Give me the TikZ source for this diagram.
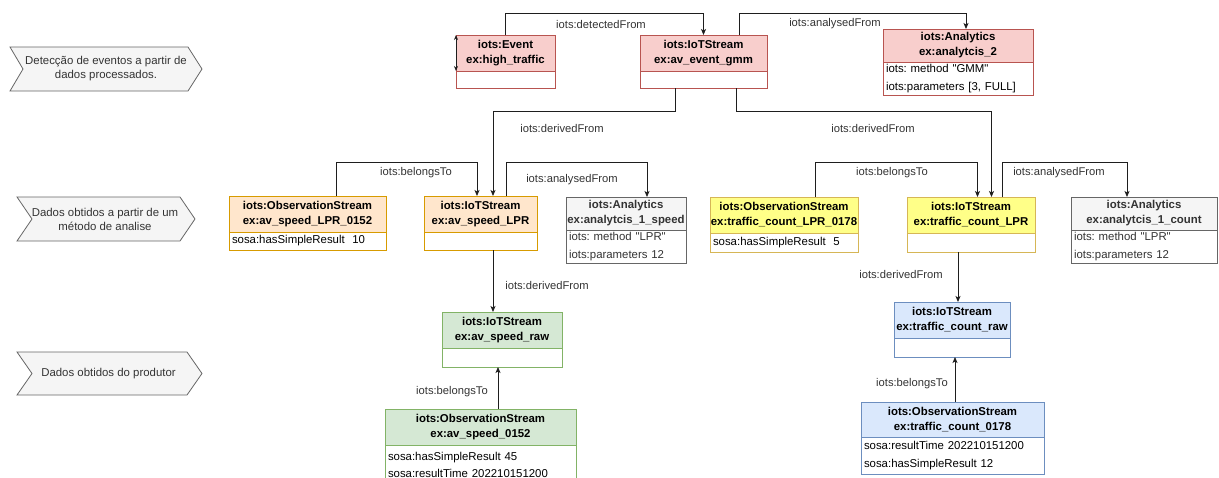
\documentclass[tikz,border=0pt]{standalone}
\usepackage{fontspec}
\setmainfont{Liberation Sans}[Ligatures=TeXOff]
\usetikzlibrary{arrows.meta}
\frenchspacing

\definecolor{redF}{HTML}{F8CECC}\definecolor{redD}{HTML}{B85450}
\definecolor{orangeF}{HTML}{FFE6CC}\definecolor{orangeD}{HTML}{D79B00}
\definecolor{yellowF}{HTML}{FFFF88}\definecolor{yellowD}{HTML}{D6B656}
\definecolor{grayF}{HTML}{F5F5F5}\definecolor{grayD}{HTML}{666666}
\definecolor{greenF}{HTML}{D5E8D4}\definecolor{greenD}{HTML}{82B366}
\definecolor{blueF}{HTML}{DAE8FC}\definecolor{blueD}{HTML}{6C8EBF}
\definecolor{lineC}{HTML}{1E1E1E}
\definecolor{textC}{HTML}{333333}

% class box: header with the two-line title, body with attribute rows
% #1 name, #2 colour style, #3 x1, #4 y1, #5 x2, #6 divider y, #7 y2, #8 title, #9 rows
\newcommand{\umlclass}[9]{%
  \pgfmathsetmacro\ucW{#5-#3}%
  \pgfmathsetmacro\ucTW{#5-#3-6}%
  \pgfmathsetmacro\ucHH{#6-#4}%
  \pgfmathsetmacro\ucBH{#7-#6}%
  \pgfmathsetmacro\ucX{(#3+#5)/2}%
  \pgfmathsetmacro\ucY{(#4+#6)/2}%
  \node[hdr,#2,minimum width=\ucW pt,minimum height=\ucHH pt] (#1) at (\ucX,\ucY) {#8};
  \node[bdy,#2,fill=white,minimum width=\ucW pt,minimum height=\ucBH pt,text width=\ucTW pt] (#1b) at (#1.south) {#9};
}

\begin{document}
\begin{tikzpicture}[x=1pt,y=-1pt,
  base/.style={rectangle,inner sep=0pt,outer sep=0pt,line width=0.9pt},
  hdr/.style={base,draw,align=center,font=\bfseries\fontsize{11.4}{15}\selectfont},
  bdy/.style={base,draw,anchor=north,align=left,inner xsep=3pt,
    font=\fontsize{11.4}{17.5}\selectfont},
  redbox/.style={fill=redF,draw=redD},
  orangebox/.style={fill=orangeF,draw=orangeD},
  yellowbox/.style={fill=yellowF,draw=yellowD},
  graybox/.style={fill=grayF,draw=grayD,text=textC},
  greenbox/.style={fill=greenF,draw=greenD},
  bluebox/.style={fill=blueF,draw=blueD},
  conn/.style={draw=lineC,line width=0.8pt,-{Stealth[length=6pt,width=5pt,inset=1.5pt]}},
  lbl/.style={inner sep=1pt,text=textC,font=\fontsize{11.2}{14}\selectfont},
  chev/.style={fill=grayF,draw=grayD,line width=0.8pt},
  chevtxt/.style={inner sep=0pt,align=center,text=textC,font=\fontsize{11.4}{14}\selectfont},
]
\useasboundingbox (0,0) rectangle (1219,477);
\clip (0,0) rectangle (1219,477);

% level markers on the left
\draw[chev] (10,47) -- (188,47) -- (202,69) -- (188,91) -- (10,91) -- (23,69) -- cycle;
\node[chevtxt] (c1) at (106,69) {Detecção de eventos a partir de\\dados processados.};
\draw[chev] (17,197) -- (180,197) -- (195,219) -- (180,241) -- (17,241) -- (32,219) -- cycle;
\node[chevtxt] (c2) at (105,219) {Dados obtidos a partir de um\\método de analise};
\draw[chev] (17,352) -- (187,352) -- (202,373.5) -- (187,395) -- (17,395) -- (32,373.5) -- cycle;
\node[chevtxt] (c3) at (108.5,373.5) {Dados obtidos do produtor};

% event level
\umlclass{evt}{redbox}{456}{35}{555}{71}{88}{iots:Event\\ex:high\_traffic}{}
\umlclass{gmm}{redbox}{640}{35}{767}{71}{88}{iots:IoTStream\\ex:av\_event\_gmm}{}
\umlclass{an2}{redbox}{883}{29}{1033}{62}{95}{iots:Analytics\\ex:analytcis\_2}{iots: method "GMM"\\iots:parameters [3, FULL]}

% analysis level
\umlclass{obsL}{orangebox}{229}{196}{386}{232}{250}{iots:ObservationStream\\ex:av\_speed\_LPR\_0152}{sosa:hasSimpleResult\ \ 10}
\umlclass{lpr}{orangebox}{424}{196}{537}{232}{250}{iots:IoTStream\\ex:av\_speed\_LPR}{}
\umlclass{anL}{graybox}{566}{197}{686}{230}{263}{iots:Analytics\\ex:analytcis\_1\_speed}{iots: method "LPR"\\iots:parameters 12}
\umlclass{obsR}{yellowbox}{710}{197}{858}{233}{252}{iots:ObservationStream\\ex:traffic\_count\_LPR\_0178}{sosa:hasSimpleResult\ \ 5}
\umlclass{tclpr}{yellowbox}{907}{197}{1035}{233}{252}{iots:IoTStream\\ex:traffic\_count\_LPR}{}
\umlclass{anR}{graybox}{1071}{197}{1217}{230}{263}{iots:Analytics\\ex:analytcis\_1\_count}{iots: method "LPR"\\iots:parameters 12}

% producer level
\umlclass{rawL}{greenbox}{442}{312}{562}{348}{367}{iots:IoTStream\\ex:av\_speed\_raw}{}
\umlclass{obsA}{greenbox}{385}{409}{576}{445}{485}{iots:ObservationStream\\ex:av\_speed\_0152}{sosa:hasSimpleResult 45\\sosa:resultTime 202210151200}
\umlclass{rawR}{bluebox}{894}{302}{1010}{338}{357}{iots:IoTStream\\ex:traffic\_count\_raw}{}
\umlclass{obsB}{bluebox}{861}{402}{1044}{437}{474}{iots:ObservationStream\\ex:traffic\_count\_0178}{sosa:resultTime 202210151200\\sosa:hasSimpleResult 12}

% size handle on the event header
\draw[draw=lineC,line width=0.8pt,{Stealth[length=5pt,width=4pt]}-{Stealth[length=5pt,width=4pt]}]
  (evt.north west) -- (evt.south west);

% relations
\draw[conn] (evt.north) -- ++(0,-22) -| (gmm.north);
\draw[conn] ([xshift=35.5pt]gmm.north) -- ++(0,-22) -| ([xshift=8pt]an2.north);
\draw[conn] ([xshift=-28.5pt]gmmb.south) -- ++(0,23) -| ([xshift=12.5pt]lpr.north);
\draw[conn] ([xshift=32.5pt]gmmb.south) -- ++(0,23) -| ([xshift=20.5pt]tclpr.north);
\draw[conn] ([xshift=28.5pt]obsL.north) -- ++(0,-34) -| ([xshift=-3.5pt]lpr.north);
\draw[conn] ([xshift=25.5pt]lpr.north) -- ++(0,-34) -| ([xshift=21pt]anL.north);
\draw[conn] ([xshift=31pt]obsR.north) -- ++(0,-35) -| ([xshift=6.5pt]tclpr.north);
\draw[conn] ([xshift=31.5pt]tclpr.north) -- ++(0,-35) -| ([xshift=-17pt]anR.north);
\draw[conn] ([xshift=12.5pt]lprb.south) -- ([xshift=12.5pt]lprb.south |- rawL.north);
\draw[conn] ([xshift=17.5pt]obsA.north) -- ([xshift=17.5pt]obsA.north |- rawLb.south);
\draw[conn] ([xshift=-13pt]tclprb.south) -- ([xshift=-13pt]tclprb.south |- rawR.north);
\draw[conn] ([xshift=2.5pt]obsB.north) -- ([xshift=2.5pt]obsB.north |- rawRb.south);

% relation labels
\node[lbl] (l1) at (601,24) {iots:detectedFrom};
\node[lbl] (l2) at (835,24) {iots:analysedFrom};
\node[lbl] (l3) at (562,128) {iots:derivedFrom};
\node[lbl] (l4) at (873,128) {iots:derivedFrom};
\node[lbl] (l5) at (416,173) {iots:belongsTo};
\node[lbl] (l6) at (572,180) {iots:analysedFrom};
\node[lbl] (l7) at (892,173) {iots:belongsTo};
\node[lbl] (l8) at (1059,173) {iots:analysedFrom};
\node[lbl] (l9) at (547,285) {iots:derivedFrom};
\node[lbl] (l10) at (452,392) {iots:belongsTo};
\node[lbl] (l11) at (901,274) {iots:derivedFrom};
\node[lbl] (l12) at (912,384) {iots:belongsTo};
\end{tikzpicture}
\end{document}
